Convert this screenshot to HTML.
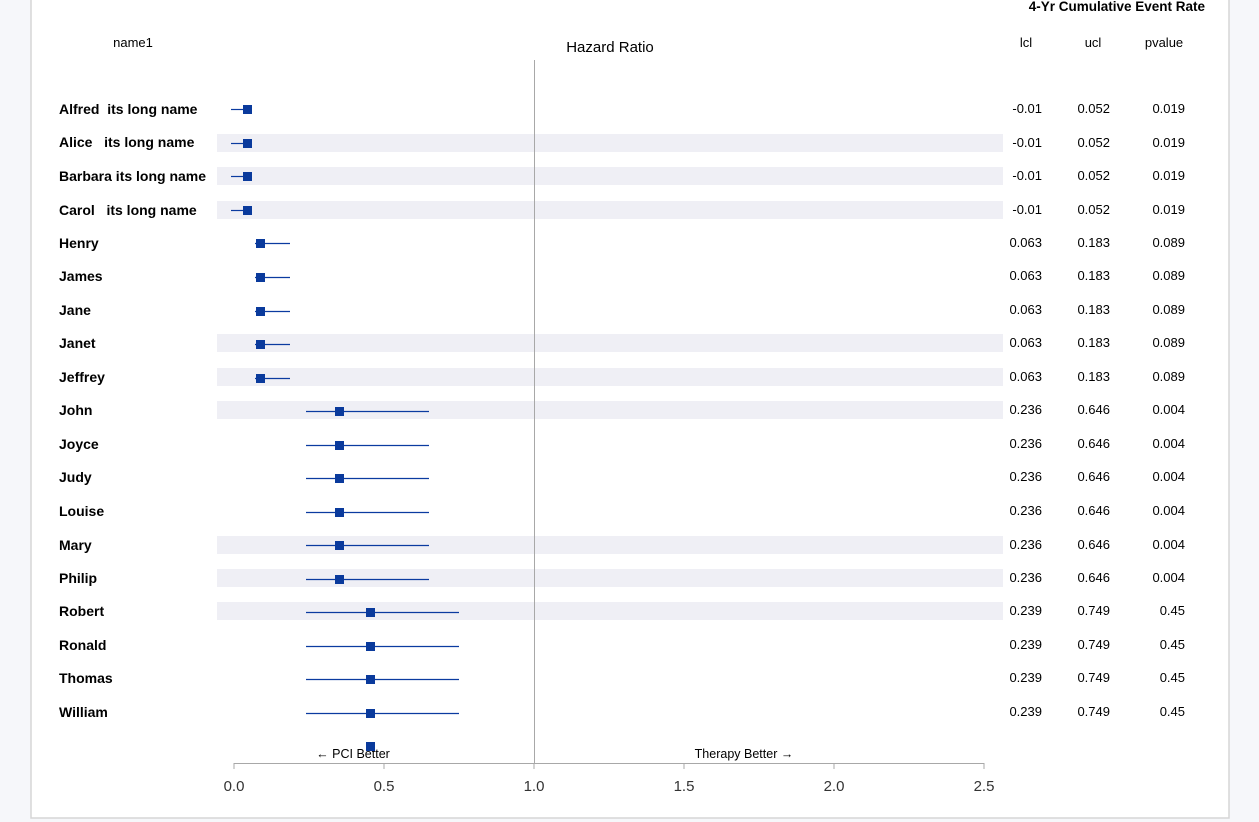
<!DOCTYPE html>
<html><head><meta charset="utf-8"><style>
html,body{margin:0;padding:0;background:#f6f7fa;}
svg{display:block;font-family:"Liberation Sans",Arial,sans-serif;}
</style></head><body>
<svg width="1259" height="822" viewBox="0 0 1259 822" xmlns="http://www.w3.org/2000/svg">
<rect x="31" y="-2" width="1198" height="820" fill="#fff" stroke="#d6d6d6" stroke-width="1.5"/>
<g fill="#efeff5">
<rect x="217" y="134" width="786" height="18"/>
<rect x="217" y="167" width="786" height="18"/>
<rect x="217" y="201" width="786" height="18"/>
<rect x="217" y="334" width="786" height="18"/>
<rect x="217" y="368" width="786" height="18"/>
<rect x="217" y="401" width="786" height="18"/>
<rect x="217" y="536" width="786" height="18"/>
<rect x="217" y="569" width="786" height="18"/>
<rect x="217" y="602" width="786" height="18"/>
</g>
<line x1="534.5" y1="60" x2="534.5" y2="763" stroke="#a8a8a8" stroke-width="1"/>
<line x1="234" y1="763.5" x2="984" y2="763.5" stroke="#a8a8a8"/>
<g stroke="#a8a8a8"><line x1="234" y1="763" x2="234" y2="769"/><line x1="384" y1="763" x2="384" y2="769"/><line x1="534" y1="763" x2="534" y2="769"/><line x1="684" y1="763" x2="684" y2="769"/><line x1="834" y1="763" x2="834" y2="769"/><line x1="984" y1="763" x2="984" y2="769"/></g>
<g font-size="15" fill="#333" text-anchor="middle"><text x="234" y="791">0.0</text><text x="384" y="791">0.5</text><text x="534" y="791">1.0</text><text x="684" y="791">1.5</text><text x="834" y="791">2.0</text><text x="984" y="791">2.5</text></g>
<text x="353" y="758" font-size="12.5" text-anchor="middle" fill="#000">← PCI Better</text>
<text x="744" y="758" font-size="12.5" text-anchor="middle" fill="#000">Therapy Better →</text>
<text x="133" y="47" font-size="13" text-anchor="middle">name1</text>
<text x="610" y="52" font-size="15" text-anchor="middle">Hazard Ratio</text>
<text x="1205" y="11" font-size="13.5" font-weight="bold" text-anchor="end">4-Yr Cumulative Event Rate</text>
<g font-size="13" text-anchor="middle"><text x="1026" y="47">lcl</text><text x="1093" y="47">ucl</text><text x="1164" y="47">pvalue</text></g>
<g stroke="#0b3ba0" stroke-width="1.2">
<line x1="231" y1="109.5" x2="247" y2="109.5"/><line x1="231" y1="143.5" x2="247" y2="143.5"/><line x1="231" y1="176.5" x2="247" y2="176.5"/><line x1="231" y1="210.5" x2="247" y2="210.5"/>
<line x1="255" y1="243.5" x2="290" y2="243.5"/><line x1="255" y1="277.5" x2="290" y2="277.5"/><line x1="255" y1="311.5" x2="290" y2="311.5"/><line x1="255" y1="344.5" x2="290" y2="344.5"/><line x1="255" y1="378.5" x2="290" y2="378.5"/>
<line x1="306" y1="411.5" x2="429" y2="411.5"/><line x1="306" y1="445.5" x2="429" y2="445.5"/><line x1="306" y1="478.5" x2="429" y2="478.5"/><line x1="306" y1="512.5" x2="429" y2="512.5"/><line x1="306" y1="545.5" x2="429" y2="545.5"/><line x1="306" y1="579.5" x2="429" y2="579.5"/>
<line x1="306" y1="612.5" x2="459" y2="612.5"/><line x1="306" y1="646.5" x2="459" y2="646.5"/><line x1="306" y1="679.5" x2="459" y2="679.5"/><line x1="306" y1="713.5" x2="459" y2="713.5"/>
</g>
<g fill="#0a3a9c">
<rect x="243" y="105" width="9" height="9"/><rect x="243" y="139" width="9" height="9"/><rect x="243" y="172" width="9" height="9"/><rect x="243" y="206" width="9" height="9"/>
<rect x="256" y="239" width="9" height="9"/><rect x="256" y="273" width="9" height="9"/><rect x="256" y="307" width="9" height="9"/><rect x="256" y="340" width="9" height="9"/><rect x="256" y="374" width="9" height="9"/>
<rect x="335" y="407" width="9" height="9"/><rect x="335" y="441" width="9" height="9"/><rect x="335" y="474" width="9" height="9"/><rect x="335" y="508" width="9" height="9"/><rect x="335" y="541" width="9" height="9"/><rect x="335" y="575" width="9" height="9"/>
<rect x="366" y="608" width="9" height="9"/><rect x="366" y="642" width="9" height="9"/><rect x="366" y="675" width="9" height="9"/><rect x="366" y="709" width="9" height="9"/>
<rect x="366" y="742" width="9" height="9"/>
</g>
<g font-size="14" font-weight="bold" fill="#000">
<text x="59" y="114" xml:space="preserve">Alfred  its long name</text>
<text x="59" y="147" xml:space="preserve">Alice   its long name</text>
<text x="59" y="181">Barbara its long name</text>
<text x="59" y="215" xml:space="preserve">Carol   its long name</text>
<text x="59" y="248">Henry</text><text x="59" y="281">James</text><text x="59" y="315">Jane</text><text x="59" y="348">Janet</text><text x="59" y="382">Jeffrey</text>
<text x="59" y="415">John</text><text x="59" y="449">Joyce</text><text x="59" y="482">Judy</text><text x="59" y="516">Louise</text><text x="59" y="550">Mary</text><text x="59" y="583">Philip</text>
<text x="59" y="616">Robert</text><text x="59" y="650">Ronald</text><text x="59" y="683">Thomas</text><text x="59" y="717">William</text>
</g>
<g font-size="13" fill="#000" text-anchor="end">
<g><text x="1042" y="113">-0.01</text><text x="1110" y="113">0.052</text><text x="1185" y="113">0.019</text></g>
<g><text x="1042" y="147">-0.01</text><text x="1110" y="147">0.052</text><text x="1185" y="147">0.019</text></g>
<g><text x="1042" y="180">-0.01</text><text x="1110" y="180">0.052</text><text x="1185" y="180">0.019</text></g>
<g><text x="1042" y="214">-0.01</text><text x="1110" y="214">0.052</text><text x="1185" y="214">0.019</text></g>
<g><text x="1042" y="247">0.063</text><text x="1110" y="247">0.183</text><text x="1185" y="247">0.089</text></g>
<g><text x="1042" y="280">0.063</text><text x="1110" y="280">0.183</text><text x="1185" y="280">0.089</text></g>
<g><text x="1042" y="314">0.063</text><text x="1110" y="314">0.183</text><text x="1185" y="314">0.089</text></g>
<g><text x="1042" y="347">0.063</text><text x="1110" y="347">0.183</text><text x="1185" y="347">0.089</text></g>
<g><text x="1042" y="381">0.063</text><text x="1110" y="381">0.183</text><text x="1185" y="381">0.089</text></g>
<g><text x="1042" y="414">0.236</text><text x="1110" y="414">0.646</text><text x="1185" y="414">0.004</text></g>
<g><text x="1042" y="448">0.236</text><text x="1110" y="448">0.646</text><text x="1185" y="448">0.004</text></g>
<g><text x="1042" y="481">0.236</text><text x="1110" y="481">0.646</text><text x="1185" y="481">0.004</text></g>
<g><text x="1042" y="515">0.236</text><text x="1110" y="515">0.646</text><text x="1185" y="515">0.004</text></g>
<g><text x="1042" y="549">0.236</text><text x="1110" y="549">0.646</text><text x="1185" y="549">0.004</text></g>
<g><text x="1042" y="582">0.236</text><text x="1110" y="582">0.646</text><text x="1185" y="582">0.004</text></g>
<g><text x="1042" y="615">0.239</text><text x="1110" y="615">0.749</text><text x="1185" y="615">0.45</text></g>
<g><text x="1042" y="649">0.239</text><text x="1110" y="649">0.749</text><text x="1185" y="649">0.45</text></g>
<g><text x="1042" y="682">0.239</text><text x="1110" y="682">0.749</text><text x="1185" y="682">0.45</text></g>
<g><text x="1042" y="716">0.239</text><text x="1110" y="716">0.749</text><text x="1185" y="716">0.45</text></g>
</g>
</svg>
</body></html>
